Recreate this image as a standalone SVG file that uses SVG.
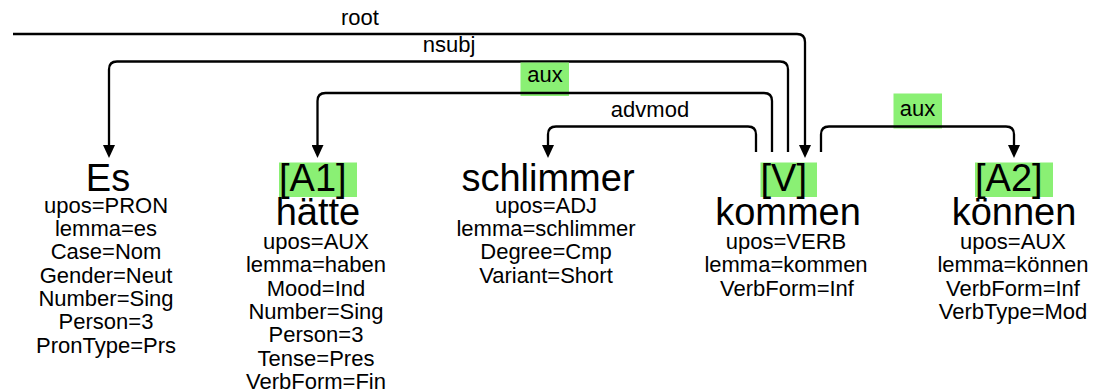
<svg xmlns="http://www.w3.org/2000/svg" width="1095" height="391" viewBox="0 0 1095 391">
  <style>
    text { font-family: "Liberation Sans", Arial, Helvetica, sans-serif; fill: #000; }
    .word { font-size: 38px; text-anchor: middle; }
    .tag { font-size: 38px; }
    .attr { font-size: 22px; text-anchor: middle; }
    .lbl { font-size: 22px; text-anchor: middle; }
    .hl { fill: #8af074; }
    .edge { fill: none; stroke: #000; stroke-width: 2.3; marker-end: url(#arrow); }
    .edge-tail { fill: none; stroke: #000; stroke-width: 2.3; }
  </style>
  <defs>
    <marker id="arrow" markerUnits="userSpaceOnUse" markerWidth="12" markerHeight="14" viewBox="0 0 12 14" refX="6" refY="0" orient="0">
      <path d="M0,0 L12,0 L6,13 Z" fill="#000"/>
    </marker>
  </defs>

  <!-- dependency arcs -->
  <g id="connectors">
    <!-- root -->
    <path class="edge" d="M13,34 H797 Q805,34 805,42 V145"/>
    <text class="lbl" x="360" y="25">root</text>
    <!-- nsubj: kommen -> Es -->
    <path class="edge" d="M788,152 V69.5 Q788,61.5 780,61.5 H117 Q109,61.5 109,69.5 V145"/>
    <text class="lbl" x="449" y="52">nsubj</text>
    <!-- aux: kommen -> hätte -->
    <rect class="hl" x="520.5" y="62.5" width="48.5" height="33.5"/>
    <path class="edge" d="M772,152 V101 Q772,93 764,93 H325.5 Q317.5,93 317.5,101 V145"/>
    <text class="lbl" x="545" y="82">aux</text>
    <!-- advmod: kommen -> schlimmer -->
    <path class="edge" d="M756,152 V134.5 Q756,126.5 748,126.5 H556 Q548,126.5 548,134.5 V145"/>
    <text class="lbl" x="650" y="116.5">advmod</text>
    <!-- aux: kommen -> können -->
    <rect class="hl" x="893.5" y="93.5" width="48.5" height="35"/>
    <path class="edge" d="M821,152 V134.5 Q821,126.5 829,126.5 H1006 Q1014,126.5 1014,134.5 V145"/>
    <text class="lbl" x="917.5" y="116">aux</text>
  </g>

  <g id="node-es">
    <text class="word" x="108" y="191">Es</text>
    <text class="attr" x="106" y="212.5">upos=PRON</text>
    <text class="attr" x="106" y="236">lemma=es</text>
    <text class="attr" x="106" y="259.3">Case=Nom</text>
    <text class="attr" x="106" y="282.6">Gender=Neut</text>
    <text class="attr" x="106" y="306">Number=Sing</text>
    <text class="attr" x="106" y="329.3">Person=3</text>
    <text class="attr" x="106" y="352.6">PronType=Prs</text>
  </g>

  <g id="node-haette">
    <rect class="hl" x="279" y="162.5" width="78" height="34.5"/>
    <text class="tag" x="279" y="191">[A1]</text>
    <text class="word" x="318" y="225">hätte</text>
    <text class="attr" x="316" y="249">upos=AUX</text>
    <text class="attr" x="316" y="272.3">lemma=haben</text>
    <text class="attr" x="316" y="295.6">Mood=Ind</text>
    <text class="attr" x="316" y="319">Number=Sing</text>
    <text class="attr" x="316" y="342.3">Person=3</text>
    <text class="attr" x="316" y="365.6">Tense=Pres</text>
    <text class="attr" x="316" y="389">VerbForm=Fin</text>
  </g>

  <g id="node-schlimmer">
    <text class="word" x="548" y="191">schlimmer</text>
    <text class="attr" x="546" y="212.5">upos=ADJ</text>
    <text class="attr" x="546" y="236">lemma=schlimmer</text>
    <text class="attr" x="546" y="259.3">Degree=Cmp</text>
    <text class="attr" x="546" y="282.6">Variant=Short</text>
  </g>

  <g id="node-kommen">
    <rect class="hl" x="760.5" y="162.5" width="56.5" height="34.5"/>
    <text class="tag" x="760.5" y="191">[V]</text>
    <text class="word" x="788" y="225">kommen</text>
    <text class="attr" x="786" y="249">upos=VERB</text>
    <text class="attr" x="786" y="272.3">lemma=kommen</text>
    <text class="attr" x="787" y="295.6">VerbForm=Inf</text>
  </g>

  <g id="node-koennen">
    <rect class="hl" x="975" y="162.5" width="78" height="34.5"/>
    <text class="tag" x="975" y="191">[A2]</text>
    <text class="word" x="1014" y="225">können</text>
    <text class="attr" x="1013" y="249">upos=AUX</text>
    <text class="attr" x="1013" y="272.3">lemma=können</text>
    <text class="attr" x="1013" y="295.6">VerbForm=Inf</text>
    <text class="attr" x="1013" y="319">VerbType=Mod</text>
  </g>
</svg>
